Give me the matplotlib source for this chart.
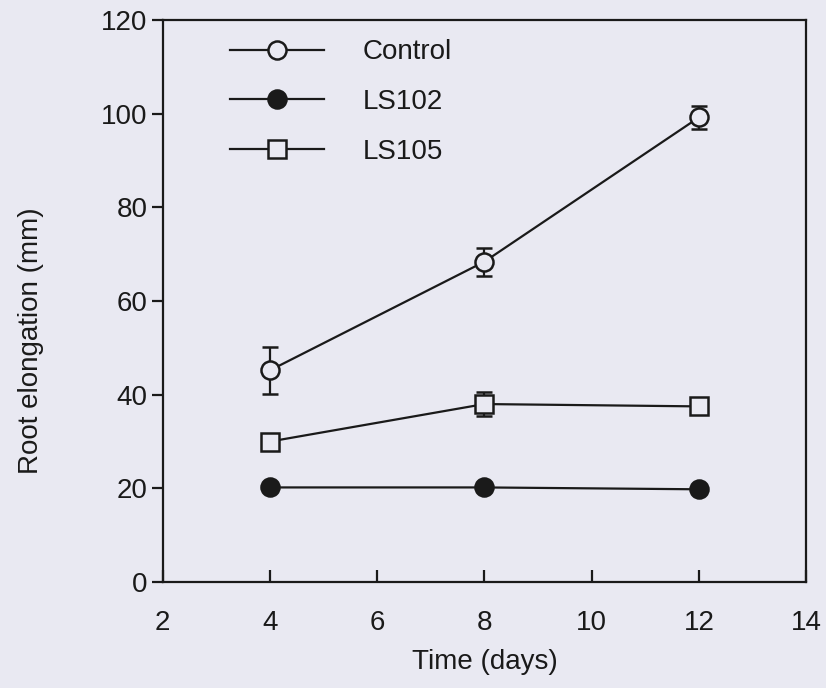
import matplotlib
matplotlib.use("Agg")
import matplotlib.pyplot as plt

days = [4, 8, 12]
control = [45.2, 68.4, 99.2]
control_err = [5.0, 3.0, 2.5]
ls102 = [20.2, 20.2, 19.8]
ls102_err = [0.5, 0.5, 0.5]
ls105 = [30.0, 38.0, 37.5]
ls105_err = [0.8, 2.5, 1.2]

plt.rcParams['font.family'] = ['Liberation Sans', 'DejaVu Sans']
bg = "#e9e9f2"

fig = plt.figure(figsize=(8.26, 6.88), dpi=100, facecolor=bg)
ax = fig.add_axes([0.197, 0.154, 0.779, 0.817], facecolor=bg)

ink = "#1a1a1a"
common = dict(color=ink, lw=1.6, ms=13, mew=1.8, capsize=5.5, elinewidth=1.6, capthick=1.8)
ax.errorbar(days, control, yerr=control_err, marker="o", mfc=bg, mec=ink, label="Control", **common)
ax.errorbar(days, ls102, yerr=ls102_err, marker="o", mfc=ink, mec=ink, label="LS102", **common)
ax.errorbar(days, ls105, yerr=ls105_err, marker="s", mfc=bg, mec=ink, label="LS105", **common)

ax.set_xlim(2, 14)
ax.set_ylim(0, 120)
ax.set_xticks([2, 4, 6, 8, 10, 12, 14])
ax.set_yticks([0, 20, 40, 60, 80, 100, 120])
ax.tick_params(axis="x", direction="in", length=9, width=1.6, labelsize=20, pad=20, colors=ink)
ax.tick_params(axis="y", direction="out", length=8, width=1.6, labelsize=20, pad=3, colors=ink)
for s in ax.spines.values():
    s.set_linewidth(1.6)
    s.set_color(ink)

ax.set_xlabel("Time (days)", fontsize=20, color=ink)
ax.set_ylabel("Root elongation (mm)", fontsize=20, color=ink)
ax.xaxis.set_label_coords(0.5, -0.12)
ax.yaxis.set_label_coords(-0.185, 0.43)

handles, labels = ax.get_legend_handles_labels()
handles = [h[0] for h in handles]
leg = ax.legend(handles, labels, loc="upper left", frameon=False, fontsize=20,
                handlelength=3.4, handletextpad=1.4, labelspacing=0.85,
                bbox_to_anchor=(0.065, 1.01))
for t in leg.get_texts():
    t.set_color(ink)

fig.savefig("out.png", dpi=100, facecolor=bg)
